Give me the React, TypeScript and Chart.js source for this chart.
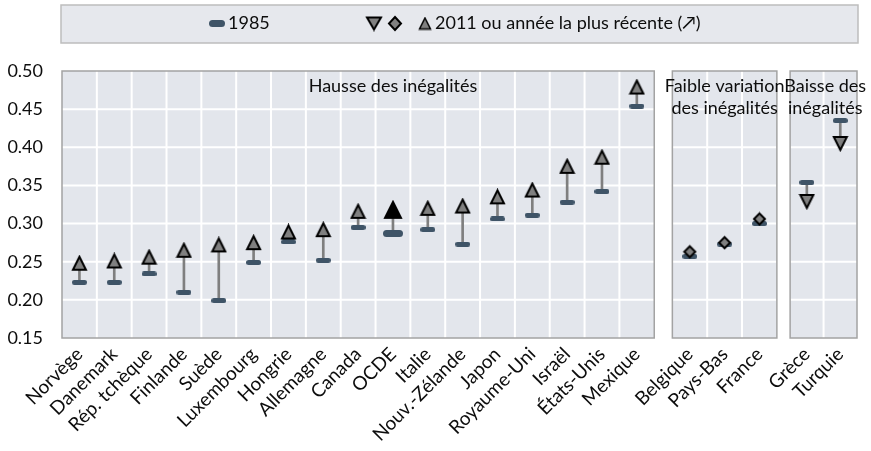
import React, { useEffect, useRef } from 'react';
import { Chart, registerables } from 'chart.js';

Chart.register(...registerables);

// ---------- data ----------
const risingCountries = ['Norvège', 'Danemark', 'Rép. tchèque', 'Finlande', 'Suède', 'Luxembourg', 'Hongrie', 'Allemagne', 'Canada', 'OCDE', 'Italie', 'Nouv.-Zélande', 'Japon', 'Royaume-Uni', 'Israël', 'États-Unis', 'Mexique'];
const rising1985 = [0.223, 0.223, 0.234, 0.210, 0.199, 0.249, 0.276, 0.252, 0.295, 0.287, 0.292, 0.273, 0.306, 0.311, 0.328, 0.342, 0.454];
const risingRecent = [0.248, 0.251, 0.256, 0.265, 0.272, 0.275, 0.289, 0.292, 0.316, 0.318, 0.320, 0.323, 0.335, 0.344, 0.375, 0.387, 0.479];

const stableCountries = ['Belgique', 'Pays-Bas', 'France'];
const stable1985 = [0.257, 0.273, 0.300];
const stableRecent = [0.263, 0.275, 0.306];

const fallingCountries = ['Grèce', 'Turquie'];
const falling1985 = [0.354, 0.435];
const fallingRecent = [0.329, 0.405];

const yTicks = [0.15, 0.20, 0.25, 0.30, 0.35, 0.40, 0.45, 0.50];
const groupTitles = [['Hausse des inégalités'], ['Faible variation', 'des inégalités'], ['Baisse des', 'inégalités']];
const legend1985 = '1985';
const legendRecent = '2011 ou année la plus récente (↗)';
const highlighted = 'OCDE';

// ---------- layout (not data) ----------
const PANELS = [
  { start: 0, width: 1 },
  { start: 17.52, width: 1 },
  { start: 20.9, width: 0.96 },
];
const X_MAX = 22.82;
const FONT = 'Lato, "Open Sans", sans-serif';
const PANEL_BG = '#e3e6ec';
const PANEL_BORDER = '#a3a3a3';
const DASH_COLOR = '#3f5467';
const MARK_FILL = '#808080';
const TEXT = '#0d0d0d';

function makeDash(w: number, h: number, color: string) {
  const c = document.createElement('canvas');
  c.width = w; c.height = h;
  const g = c.getContext('2d')!;
  g.fillStyle = color;
  g.beginPath();
  (g as any).roundRect(0, 0, w, h, h / 2);
  g.fill();
  return c;
}

function makeTriangle(w: number, h: number, fill: string, down: boolean, lw = 2) {
  const c = document.createElement('canvas');
  c.width = w + lw * 2; c.height = h + lw * 2;
  const g = c.getContext('2d')!;
  g.lineWidth = lw;
  g.lineJoin = 'miter';
  g.fillStyle = fill;
  g.strokeStyle = '#000';
  g.beginPath();
  if (!down) {
    g.moveTo(lw + w / 2, lw);
    g.lineTo(lw + w, lw + h);
    g.lineTo(lw, lw + h);
  } else {
    g.moveTo(lw, lw);
    g.lineTo(lw + w, lw);
    g.lineTo(lw + w / 2, lw + h);
  }
  g.closePath();
  g.fill();
  g.stroke();
  return c;
}

function makeDiamond(w: number, h: number, fill: string, lw = 2) {
  const c = document.createElement('canvas');
  c.width = w + lw * 2; c.height = h + lw * 2;
  const g = c.getContext('2d')!;
  g.lineWidth = lw;
  g.fillStyle = fill;
  g.strokeStyle = '#000';
  g.beginPath();
  g.moveTo(lw + w / 2, lw);
  g.lineTo(lw + w, lw + h / 2);
  g.lineTo(lw + w / 2, lw + h);
  g.lineTo(lw, lw + h / 2);
  g.closePath();
  g.fill();
  g.stroke();
  return c;
}

export default function App() {
  const ref = useRef<HTMLCanvasElement>(null);

  useEffect(() => {
    document.body.style.margin = '0';
    const canvas = ref.current!;

    const groups = [
      { names: risingCountries, v85: rising1985, vRec: risingRecent },
      { names: stableCountries, v85: stable1985, vRec: stableRecent },
      { names: fallingCountries, v85: falling1985, vRec: fallingRecent },
    ];
    const xsByGroup = groups.map((g, gi) => g.names.map((_, i) => PANELS[gi].start + (i + 0.5) * PANELS[gi].width));
    const allX = xsByGroup.flat();
    const allNames = groups.flatMap((g) => g.names);
    const all85 = groups.flatMap((g) => g.v85);
    const allRec = groups.flatMap((g) => g.vRec);

    const dash = makeDash(15, 5, DASH_COLOR);
    const bigDash = makeDash(20, 7, DASH_COLOR);
    const legDash = makeDash(16, 7, DASH_COLOR);
    const triUp = makeTriangle(13, 13, MARK_FILL, false);
    const triUpBig = makeTriangle(16, 16, '#000', false);
    const triDown = makeTriangle(13, 13, MARK_FILL, true);
    const diamond = makeDiamond(11, 11, MARK_FILL);
    const legTriDown = makeTriangle(14, 12, MARK_FILL, true);
    const legDiamond = makeDiamond(12, 13, MARK_FILL);
    const legTriUp = makeTriangle(11, 11, MARK_FILL, false, 1.5);

    const panelPlugin = {
      id: 'panels',
      beforeDatasetsDraw(chart: any) {
        const { ctx, chartArea } = chart;
        const xs = chart.scales.x;
        const ys = chart.scales.y;
        ctx.save();
        groups.forEach((g, gi) => {
          const p = PANELS[gi];
          const x0 = xs.getPixelForValue(p.start);
          const x1 = xs.getPixelForValue(p.start + g.names.length * p.width);
          const y0 = chartArea.top;
          const y1 = chartArea.bottom;
          ctx.fillStyle = PANEL_BG;
          ctx.fillRect(x0, y0, x1 - x0, y1 - y0);
          ctx.strokeStyle = '#ffffff';
          ctx.lineWidth = 2;
          ctx.beginPath();
          yTicks.forEach((t) => {
            const y = ys.getPixelForValue(t);
            if (y > y0 + 1 && y < y1 - 1) {
              ctx.moveTo(x0, y);
              ctx.lineTo(x1, y);
            }
          });
          for (let i = 1; i < g.names.length; i++) {
            const x = xs.getPixelForValue(p.start + i * p.width);
            ctx.moveTo(x, y0);
            ctx.lineTo(x, y1);
          }
          ctx.stroke();
          ctx.strokeStyle = PANEL_BORDER;
          ctx.lineWidth = 1.5;
          ctx.strokeRect(x0, y0, x1 - x0, y1 - y0);
        });
        ctx.restore();
      },
      afterDraw(chart: any) {
        const { ctx, chartArea } = chart;
        const xs = chart.scales.x;
        ctx.save();
        // group titles
        ctx.fillStyle = TEXT;
        ctx.font = `18px ${FONT}`;
        ctx.textAlign = 'center';
        ctx.textBaseline = 'middle';
        const titleCenters = [9.5, PANELS[1].start + 1.5 * PANELS[1].width, PANELS[2].start + 1.05 * PANELS[2].width];
        groupTitles.forEach((lines, gi) => {
          const cx = xs.getPixelForValue(titleCenters[gi]);
          lines.forEach((line, li) => {
            ctx.fillText(line, cx, chartArea.top + 15 + li * 22);
          });
        });
        // legend box
        const lx0 = 61, lx1 = 858, ly0 = 5, ly1 = 43;
        ctx.fillStyle = '#e6e8ed';
        ctx.fillRect(lx0, ly0, lx1 - lx0, ly1 - ly0);
        ctx.strokeStyle = '#bdbdbd';
        ctx.lineWidth = 1.5;
        ctx.strokeRect(lx0, ly0, lx1 - lx0, ly1 - ly0);
        const cy = 23.5;
        ctx.drawImage(legDash, 209, cy - legDash.height / 2);
        ctx.textAlign = 'left';
        ctx.fillStyle = TEXT;
        ctx.font = `18px ${FONT}`;
        ctx.fillText(legend1985, 228, cy);
        ctx.drawImage(legTriDown, 374 - legTriDown.width / 2, cy - legTriDown.height / 2);
        ctx.drawImage(legDiamond, 395 - legDiamond.width / 2, cy - legDiamond.height / 2);
        ctx.drawImage(legTriUp, 425 - legTriUp.width / 2, cy - legTriUp.height / 2);
        ctx.fillText(legendRecent, 435, cy);
        ctx.restore();
      },
    };

    const chart = new Chart(canvas, {
      type: 'scatter',
      data: {
        datasets: [
          {
            type: 'bar',
            label: 'écart',
            data: allX.map((x, i) => ({ x, y: [all85[i], allRec[i]] })) as any,
            backgroundColor: '#7f7f7f',
            borderWidth: 0,
            barThickness: 2,
            order: 3,
          } as any,
          {
            type: 'scatter',
            label: legend1985,
            data: allX.map((x, i) => ({ x, y: all85[i] })),
            pointStyle: (c: any) => (allNames[c.dataIndex] === highlighted ? bigDash : dash),
            pointRadius: 8,
            pointHoverRadius: 8,
            order: 2,
          } as any,
          {
            type: 'scatter',
            label: legendRecent + ' hausse',
            data: xsByGroup[0].map((x, i) => ({ x, y: risingRecent[i] })),
            pointStyle: (c: any) => (risingCountries[c.dataIndex] === highlighted ? triUpBig : triUp),
            pointRadius: 8,
            pointHoverRadius: 8,
            order: 1,
          } as any,
          {
            type: 'scatter',
            label: legendRecent + ' stable',
            data: xsByGroup[1].map((x, i) => ({ x, y: stableRecent[i] })),
            pointStyle: diamond,
            pointRadius: 8,
            pointHoverRadius: 8,
            order: 1,
          } as any,
          {
            type: 'scatter',
            label: legendRecent + ' baisse',
            data: xsByGroup[2].map((x, i) => ({ x, y: fallingRecent[i] })),
            pointStyle: triDown,
            pointRadius: 8,
            pointHoverRadius: 8,
            order: 1,
          } as any,
        ],
      },
      options: {
        responsive: false,
        animation: false,
        devicePixelRatio: 1,
        events: [],
        layout: { padding: { top: 71, right: 14, left: 0, bottom: 0 } },
        plugins: {
          legend: { display: false },
          tooltip: { enabled: false },
        },
        scales: {
          x: {
            type: 'linear',
            min: 0,
            max: X_MAX,
            offset: false,
            grid: { display: false, drawTicks: false },
            border: { display: false },
            afterBuildTicks: (scale: any) => {
              scale.ticks = allX.map((v) => ({ value: v }));
            },
            afterFit: (scale: any) => {
              scale.height = 113;
            },
            ticks: {
              autoSkip: false,
              maxRotation: 45,
              minRotation: 45,
              padding: 5,
              color: TEXT,
              font: { family: FONT, size: 19 },
              callback: (_v: any, i: number) => allNames[i],
            },
          },
          y: {
            type: 'linear',
            min: yTicks[0],
            max: yTicks[yTicks.length - 1],
            grid: { display: false, drawTicks: false },
            border: { display: false },
            afterBuildTicks: (scale: any) => {
              scale.ticks = yTicks.map((v) => ({ value: v }));
            },
            afterFit: (scale: any) => {
              scale.width = 62;
            },
            ticks: {
              padding: 19,
              color: TEXT,
              font: { family: FONT, size: 18 },
              callback: (v: any) => Number(v).toFixed(2),
            },
          },
        },
      } as any,
      plugins: [panelPlugin],
    });

    return () => chart.destroy();
  }, []);

  return (
    <div style={{ width: 871, height: 451 }}>
      <canvas ref={ref} width={871} height={451} style={{ display: 'block', width: 871, height: 451 }} />
    </div>
  );
}
